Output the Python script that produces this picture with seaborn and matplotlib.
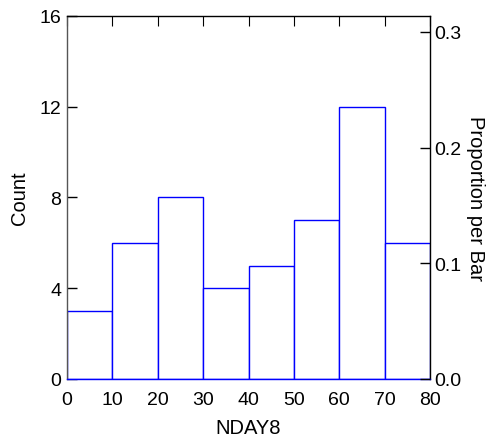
import matplotlib
matplotlib.use("Agg")
import matplotlib.pyplot as plt
import seaborn as sns

# bins of NDAY8 (left edges) and counts
bin_edges = [0, 10, 20, 30, 40, 50, 60, 70, 80]
bin_mids = [5, 15, 25, 35, 45, 55, 65, 75]
counts = [3, 6, 8, 4, 5, 7, 12, 6]
count_ticks = [0, 4, 8, 12, 16]
prop_ticks = [0.0, 0.1, 0.2, 0.3]

sns.set_style("white")
plt.rcParams['font.family'] = ['Liberation Sans', 'DejaVu Sans']
plt.rcParams['font.size'] = 14
for k in ["text.color", "axes.labelcolor", "xtick.color", "ytick.color"]:
    plt.rcParams[k] = "black"

fig = plt.figure(figsize=(4.95, 4.39), dpi=100)
ax = fig.add_axes([0.1354, 0.1344, 0.7333, 0.8269])

sns.histplot(x=bin_mids, weights=counts, bins=bin_edges, stat="count",
             color="white", edgecolor="#0000ff", linewidth=1.0, alpha=1.0, ax=ax)

ax.set_xlim(0, 80)
ax.set_ylim(0, 16)
ax.set_xticks(bin_edges)
ax.set_yticks(count_ticks)
ax.set_xlabel("NDAY8", fontsize=14.5, labelpad=7.5)
ax.set_ylabel("Count", fontsize=14.5, labelpad=8)
ax.tick_params(axis="y", direction="in", length=7.5, width=1, pad=4, labelsize=14)
ax.tick_params(axis="x", direction="in", length=0, pad=8.5, labelsize=14)
for s in ["top", "right"]:
    ax.spines[s].set_color("black")
ax.spines["left"].set_color("#555555")
ax.spines["bottom"].set_color("#0000ff")
for s in ax.spines.values():
    s.set_linewidth(1.0)

# top ticks drawn inward (the bottom ones are hidden under bars)
ax.xaxis.set_tick_params(which="major", top=True, bottom=False, labeltop=False, labelbottom=True)
for t in ax.xaxis.get_major_ticks():
    t.tick2line.set_markersize(7.5)
    t.tick2line.set_color("black")

total = sum(counts)
ax2 = ax.twinx()
ax2.set_ylim(0, 16 / total)
ax2.set_yticks(prop_ticks)
ax2.set_yticklabels([f"{v:.1f}" for v in prop_ticks])
ax2.tick_params(axis="y", direction="in", length=7.5, width=1, pad=3, labelsize=14)
ax2.set_ylabel("Proportion per Bar", fontsize=14.5, rotation=270, labelpad=17)
for s in ax2.spines.values():
    s.set_visible(False)

fig.savefig("out.png", dpi=100)
